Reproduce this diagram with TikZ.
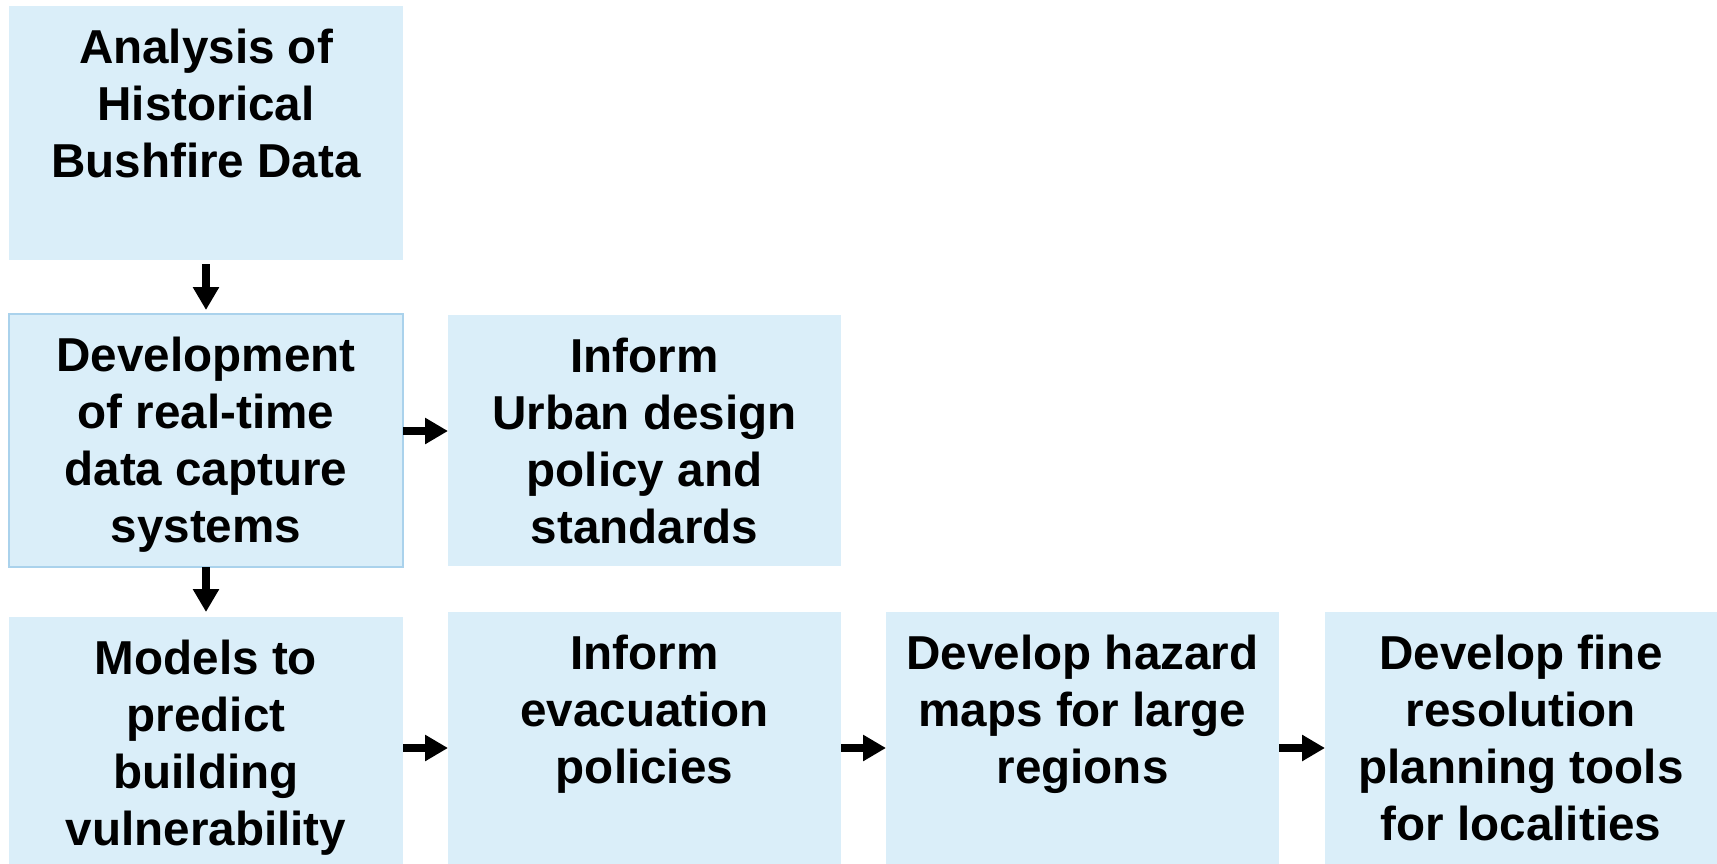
\documentclass[tikz,border=0pt]{standalone}
\usepackage{fontspec}
\setmainfont{Liberation Sans}
\usetikzlibrary{arrows.meta}
\definecolor{boxfill}{RGB}{218,238,249}
\definecolor{boxline}{RGB}{170,210,236}
\newcommand{\boxtext}[3]{\parbox[c][#2pt][t]{#1pt}{\centering\vspace*{23pt}\bfseries\fontsize{47.6}{57}\selectfont #3\par}}
\tikzset{
  stepbox/.style={fill=boxfill, draw=none, inner sep=0pt, outer sep=0pt},
  borderbox/.style={stepbox, draw=boxline, line width=1.5pt},
  arr/.style={line width=8pt, -{Triangle[width=25pt,length=23pt]}}
}
\begin{document}
\begin{tikzpicture}[x=1pt,y=-1pt]
\useasboundingbox (0,0) rectangle (1717,864);
\node[stepbox] (b1) at (206,133) {\boxtext{394}{254}{Analysis of\\Historical\\Bushfire Data}};
\node[borderbox] (b2) at (206,440.5) {\boxtext{394}{253}{Development\\of real-time\\data capture\\systems}};
\node[stepbox] (b3) at (644.5,440.5) {\boxtext{393}{251}{Inform\\Urban design\\policy and\\standards}};
\node[stepbox] (b4) at (206,740.5) {\boxtext{394}{247}{Models to\\predict\\building\\vulnerability}};
\node[stepbox] (b5) at (644.5,738) {\boxtext{393}{252}{Inform\\evacuation\\policies}};
\node[stepbox] (b6) at (1082.5,738) {\boxtext{393}{252}{Develop hazard\\maps for large\\regions}};
\node[stepbox] (b7) at (1521,738) {\boxtext{392}{252}{Develop fine\\resolution\\planning tools\\for localities}};
\coordinate (r1) at (0,431);
\coordinate (r2) at (0,748);
\draw[arr, shorten <=4pt, shorten >=4pt] (b1) -- (b2);
\draw[arr, shorten >=5pt] (b2) -- (b4);
\draw[arr] (b2.east |- r1) -- (b3.west |- r1);
\draw[arr] (b4.east |- r2) -- (b5.west |- r2);
\draw[arr] (b5.east |- r2) -- (b6.west |- r2);
\draw[arr] (b6.east |- r2) -- (b7.west |- r2);
\end{tikzpicture}
\end{document}
